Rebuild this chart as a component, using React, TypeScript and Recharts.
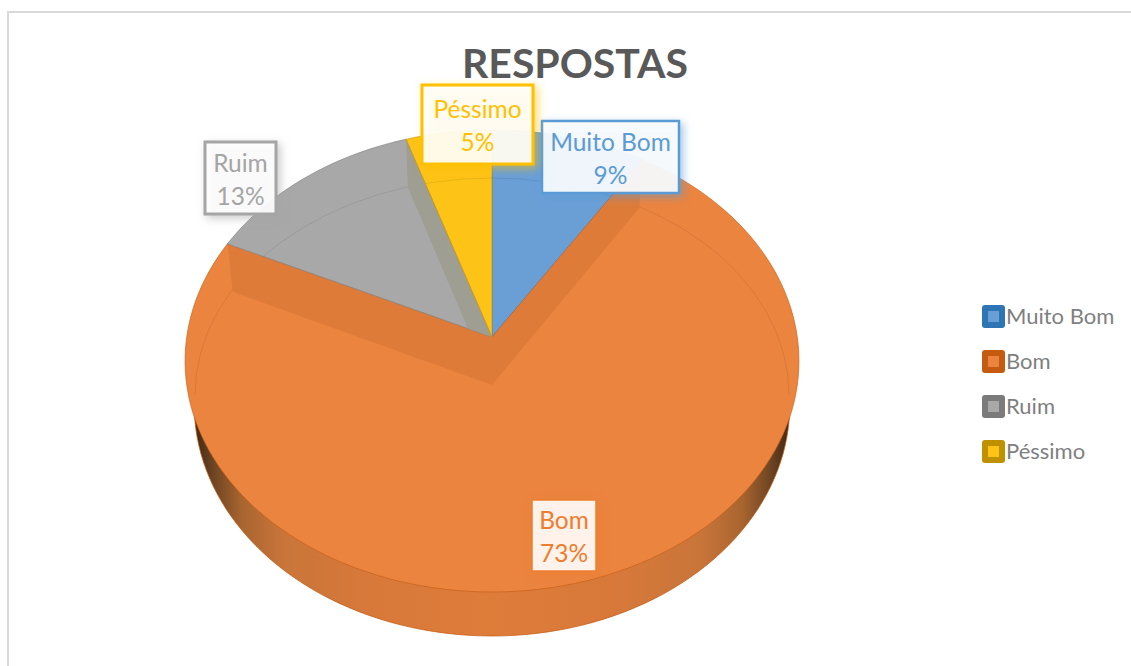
import React from "react"
import { PieChart, Pie, Legend } from "recharts"

const categories = ["Muito Bom", "Bom", "Ruim", "Péssimo"]
const values = [9, 73, 13, 5]
const fills = ["#6a9fd6", "#eb843f", "#a8a8a8", "#fdc316"]
const edgeColors = ["#2e75b6", "#c55a11", "#7b7b7b", "#bf9000"]
const wallColors = ["#5a8cc0", "#de7b39", "#9e9e92", "#e0ad18"]
const labelColors = ["#5b9bd5", "#ed7d31", "#a5a5a5", "#ffc000"]

// label boxes were placed by hand in the original: [left, top, width, height]
const labelBoxes = [
  [542, 121, 137, 72],
  [532, 500, 64, 71],
  [205, 142, 71, 72],
  [422, 85, 111, 79]
]

const pieData = categories.map((name, i) => ({
  name,
  value: values[i],
  fill: fills[i],
  index: i
}))

const FONT = "Lato, 'Open Sans', sans-serif"

// pie centre on screen and perspective of the tilted disc
const CX = 492
const CY = 337
const A = 305.3
const B = 228.5
const K = 0.1039
const DEPTH = 48

const project = (deg: number) => {
  const r = (deg * Math.PI) / 180
  const d = 1 + K * Math.sin(r)
  return [CX + (A * Math.cos(r)) / d, CY - (B * Math.sin(r)) / d]
}

const discPath = (dy: number, scale = 1) => {
  const pts: string[] = []
  for (let a = 0; a < 360; a += 2) {
    const [x, y] = project(a)
    pts.push(`${CX + (x - CX) * scale},${y + dy}`)
  }
  return "M" + pts.join("L") + "Z"
}

// thin bevel line on the top face, only the far half shows
const BEVEL = `M${CX - 297},395A297 217 0 0 1 ${CX + 297},395`

const PieSlice = (props: any) => {
  const { startAngle, endAngle, fill, payload } = props
  const i = payload?.index ?? props.index ?? 0
  const pts: number[][] = []
  const steps = Math.max(2, Math.ceil(Math.abs(endAngle - startAngle) / 2))
  for (let s = 0; s <= steps; s++) {
    pts.push(project(startAngle + ((endAngle - startAngle) * s) / steps))
  }
  const face =
    `M${CX},${CY}L` + pts.map((p) => `${p[0]},${p[1]}`).join("L") + "Z"
  const wall = (p: number[]) => {
    const bx = CX + (p[0] - CX) * 0.98
    return `M${CX},${CY}L${p[0]},${p[1]}L${bx},${p[1] + DEPTH}L${CX},${CY + DEPTH}Z`
  }
  const clipId = `face-clip-${i}`

  return (
    <g>
      {/* outer rim goes under every slice, so it hangs off the first one */}
      {i === 0 && (
        <g>
          <defs>
            <linearGradient id="rim" x1="0" y1="0" x2="1" y2="0">
              <stop offset="0" stopColor="#3d2814" />
              <stop offset="0.03" stopColor="#6b4322" />
              <stop offset="0.08" stopColor="#a9652f" />
              <stop offset="0.15" stopColor="#c9753a" />
              <stop offset="0.3" stopColor="#d8793a" />
              <stop offset="0.5" stopColor="#de7c3a" />
              <stop offset="0.7" stopColor="#d8793a" />
              <stop offset="0.85" stopColor="#c9753a" />
              <stop offset="0.92" stopColor="#a9652f" />
              <stop offset="0.97" stopColor="#6b4322" />
              <stop offset="1" stopColor="#3d2814" />
            </linearGradient>
          </defs>
          <path
            d={discPath(44, 0.97)}
            fill="url(#rim)"
            stroke={edgeColors[1]}
            strokeWidth={0.75}
          />
        </g>
      )}
      <defs>
        <clipPath id={clipId}>
          <path d={face} />
        </clipPath>
      </defs>
      <path d={face} fill={fill} stroke={edgeColors[i]} strokeWidth={0.6} />
      <g clipPath={`url(#${clipId})`}>
        <path d={BEVEL} fill="none" stroke="#000" strokeOpacity={0.08} strokeWidth={1} />
        <path d={wall(pts[0])} fill={wallColors[i]} />
        <path d={wall(pts[pts.length - 1])} fill={wallColors[i]} />
      </g>
    </g>
  )
}

const SliceLabel = (props: any) => {
  const { index, name, percent } = props
  const [x, y, w, h] = labelBoxes[index]
  const color = labelColors[index]
  const mid = x + w / 2
  const border = index === 1 ? 1.5 : index === 0 ? 2.5 : 3
  return (
    <g>
      <rect
        x={x}
        y={y}
        width={w}
        height={h}
        fill="#fff"
        fillOpacity={0.9}
        stroke={color}
        strokeWidth={border}
        style={{ filter: `drop-shadow(3px 3px 4px ${color}99)` }}
      />
      <text x={mid} y={y + h / 2 - 6.5} textAnchor="middle" fontFamily={FONT} fontSize={24.5} fill={color}>
        {name}
      </text>
      <text x={mid} y={y + h / 2 + 26.5} textAnchor="middle" fontFamily={FONT} fontSize={24.5} fill={color}>
        {Math.round(percent * 100)}%
      </text>
    </g>
  )
}

const LegendBox = ({ payload }: any) => (
  <div>
    {(payload || []).map((item: any, i: number) => (
      <div
        key={item.value}
        style={{ display: "flex", alignItems: "center", height: 45, fontFamily: FONT, fontSize: 22, color: "#7f7f7f" }}
      >
        <span
          style={{
            width: 23,
            height: 23,
            borderRadius: 3,
            background: edgeColors[i],
            display: "flex",
            alignItems: "center",
            justifyContent: "center",
            marginRight: 1
          }}
        >
          <span style={{ width: 11, height: 11, background: item.color }} />
        </span>
        <span style={{ position: "relative", top: -1 }}>{item.value}</span>
      </div>
    ))}
  </div>
)

export default function App() {
  return (
    <div style={{ position: "fixed", left: 0, top: 0, width: 1131, height: 666, overflow: "hidden", background: "#fff" }}>
      <div style={{ position: "absolute", left: 7, top: 11, width: 1130, height: 660, borderLeft: "2px solid #d9d9d9", borderTop: "2px solid #d9d9d9" }} />
      <PieChart
        width={1131}
        height={666}
        margin={{ top: 0, right: 0, bottom: 0, left: 0 }}
        style={{ position: "absolute", left: 0, top: 0 }}
      >
        <text x={575} y={78} textAnchor="middle" fontFamily={FONT} fontWeight={700} fontSize={41} fill="#595959">
          RESPOSTAS
        </text>
        <Pie
          data={pieData}
          dataKey="value"
          nameKey="name"
          cx={CX}
          cy={CY}
          outerRadius={300}
          startAngle={90}
          endAngle={-270}
          stroke="none"
          shape={PieSlice}
          label={SliceLabel}
          labelLine={false}
          isAnimationActive={false}
        />
        <Legend
          layout="vertical"
          align="right"
          verticalAlign="top"
          itemSorter={null}
          content={<LegendBox />}
          wrapperStyle={{ position: "absolute", left: 982, top: 294, width: 149 }}
        />
      </PieChart>
    </div>
  )
}
